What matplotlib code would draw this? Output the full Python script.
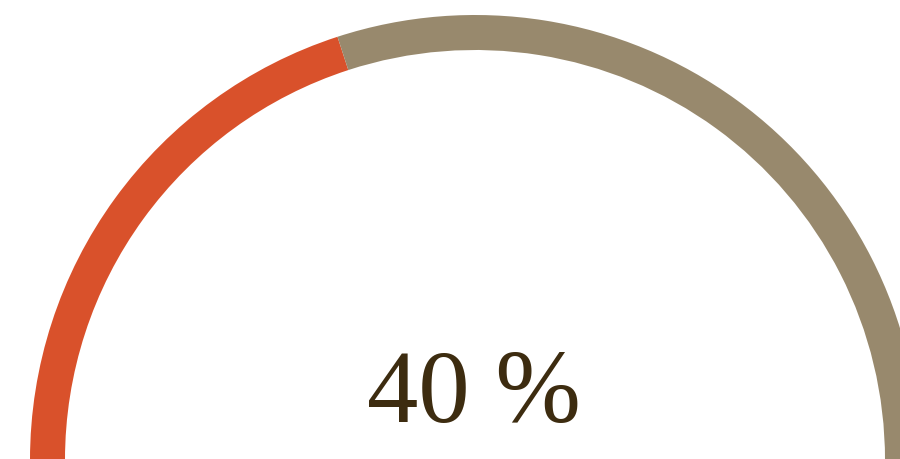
import matplotlib
matplotlib.use("Agg")
import matplotlib.pyplot as plt
from matplotlib.patches import Wedge

labels = ["done", "rest"]
values = [40, 60]
colors = ["#d9512b", "#98896d"]
text_color = "#3d2c10"

fig = plt.figure(figsize=(9, 4.59), dpi=100)
ax = fig.add_axes([0, 0, 1, 1])
ax.set_xlim(0, 900)
ax.set_ylim(0, 459)
ax.set_aspect("equal")
ax.axis("off")

# gauge centre sits just below the bottom edge
cx, cy = 475, -1
r_out, ring = 445, 35

total = sum(values)
start = 180.0
for v, c in zip(values, colors):
    sweep = 180.0 * v / total
    ax.add_patch(Wedge((cx, cy), r_out, start - sweep, start, width=ring,
                       facecolor=c, edgecolor="none"))
    start -= sweep

ax.text(474, 62, "%d %%" % values[0], ha="center", va="center",
        fontsize=74, color=text_color, family=["Liberation Serif", "DejaVu Serif"])

fig.savefig("out.png", dpi=100)
